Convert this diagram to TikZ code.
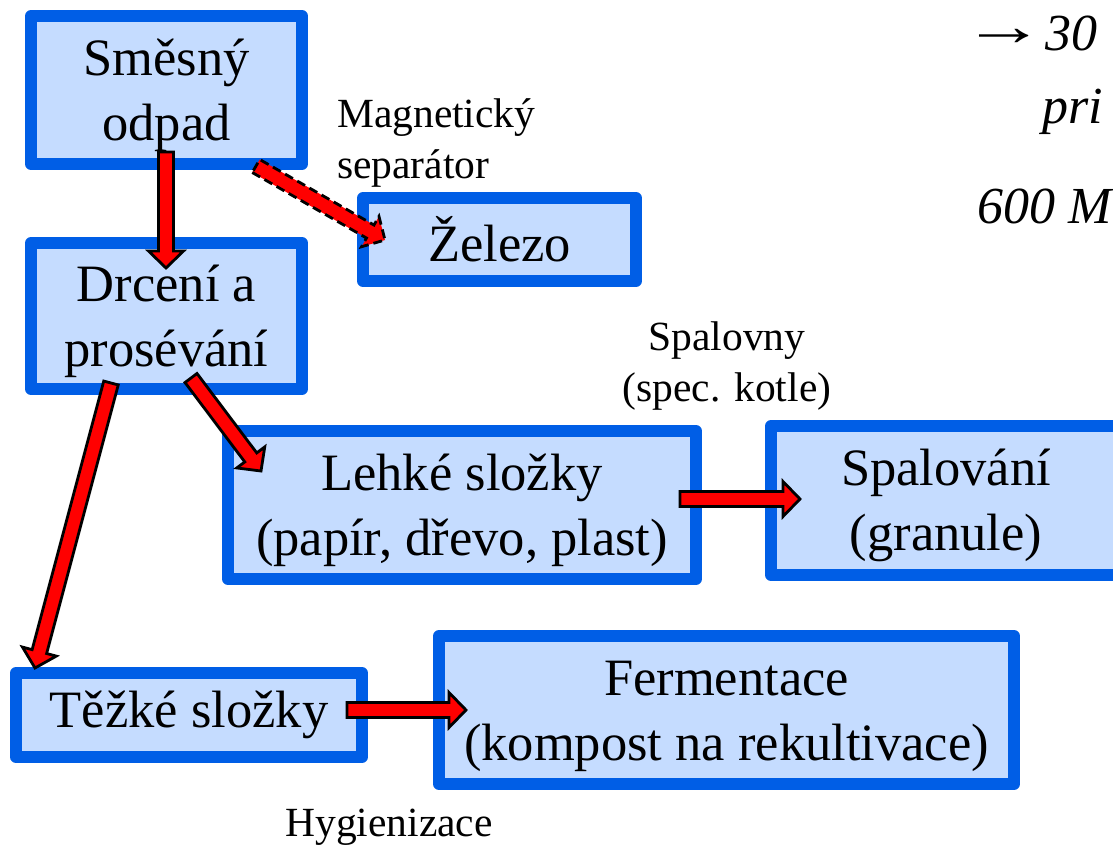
\documentclass[tikz,border=0pt]{standalone}
\usepackage{fontspec}
\usepackage{graphicx}
\setmainfont{Liberation Serif}
\usetikzlibrary{calc}
\definecolor{boxblue}{RGB}{0,94,230}
\definecolor{boxfill}{RGB}{197,220,255}
\definecolor{arrred}{RGB}{255,0,0}
\newcommand\tstrut{\rule{0pt}{47pt}}
\tikzset{
  box/.style={draw=boxblue, fill=boxfill, line width=12pt, line join=round,
    inner sep=0pt, align=center, font=\fontsize{52.5}{65}\selectfont},
  lbl/.style={inner sep=0pt, font=\fontsize{41.5}{51}\selectfont},
  side/.style={inner sep=0pt, anchor=base west, font=\fontsize{52}{62}\selectfont\itshape},
  barrow/.style={draw=black, fill=arrred, line width=2.8pt, line join=miter, miter limit=10}
}
\newcommand\blockarr[3][]{%
  \coordinate (bahead) at ($(#3)!17pt!(#2)$);
  \draw[barrow,#1] ($(#2)!7.5pt!-90:(#3)$) -- ($(bahead)!7.5pt!-90:(#3)$)
    -- ($(bahead)!17.5pt!-90:(#3)$) -- (#3) -- ($(bahead)!17.5pt!90:(#3)$)
    -- ($(bahead)!7.5pt!90:(#3)$) -- ($(#2)!7.5pt!90:(#3)$) -- cycle;}
\begin{document}
\begin{tikzpicture}[x=1pt,y=-1pt]
\useasboundingbox (0,0) rectangle (1113,844);
\clip (0,0) rectangle (1113,844);
% boxes
\node[box, minimum width=271pt, minimum height=148pt] (smes) at (166.5,90) {\tstrut Směsný\\odpad};
\node[box, minimum width=271pt, minimum height=146pt] (drc) at (166.5,316) {\tstrut Drcení a\\prosévání};
\node[box, minimum width=273pt, minimum height=83pt] (zel) at (499.5,239.5) {Železo};
\node[box, minimum width=468pt, minimum height=148pt] (leh) at (462,505) {\tstrut Lehké složky\\(papír, dřevo, plast)};
\node[box, minimum width=350pt, minimum height=149pt] (spal) at (946,500.5) {\tstrut Spalování\\(granule)};
\node[box, minimum width=346pt, minimum height=84pt] (tez) at (189,715) {Těžké složky};
\node[box, minimum width=575pt, minimum height=148pt] (ferm) at (726.5,710) {\tstrut Fermentace\\(kompost na rekultivace)};
% labels
\node[lbl, anchor=base west, align=left] (mag) at (337,178) {Magnetický\\separátor};
\node[lbl, anchor=base, align=center] (spv) at (727,401) {Spalovny\\(spec. kotle)};
\node[lbl, anchor=base] (hyg) at (389,836) {Hygienizace};
% cut-off side text
\node[side] (t1) at (962,50) {\raisebox{5pt}{\scalebox{1.6}[1.1]{\upshape →}}30};
\node[side] (t2) at (1042,123) {pri};
\node[side] (t3) at (977,223) {600 M};
% arrow end points
\coordinate (a1s) at (166,152); \coordinate (a1e) at (166,268);
\coordinate (a2s) at (256,166); \coordinate (a2e) at (385,240);
\coordinate (a3s) at (111,383); \coordinate (a3e) at (35,668);
\coordinate (a4s) at (191,378); \coordinate (a4e) at (261,471);
\coordinate (a5s) at (680,499); \coordinate (a5e) at (800,499);
\coordinate (a6s) at (347,710); \coordinate (a6e) at (466,710);
\blockarr{a1s}{a1e}
\blockarr[dashed, dash pattern=on 9pt off 5pt]{a2s}{a2e}
\blockarr{a3s}{a3e}
\blockarr{a4s}{a4e}
\blockarr{a5s}{a5e}
\blockarr{a6s}{a6e}
\end{tikzpicture}
\end{document}
